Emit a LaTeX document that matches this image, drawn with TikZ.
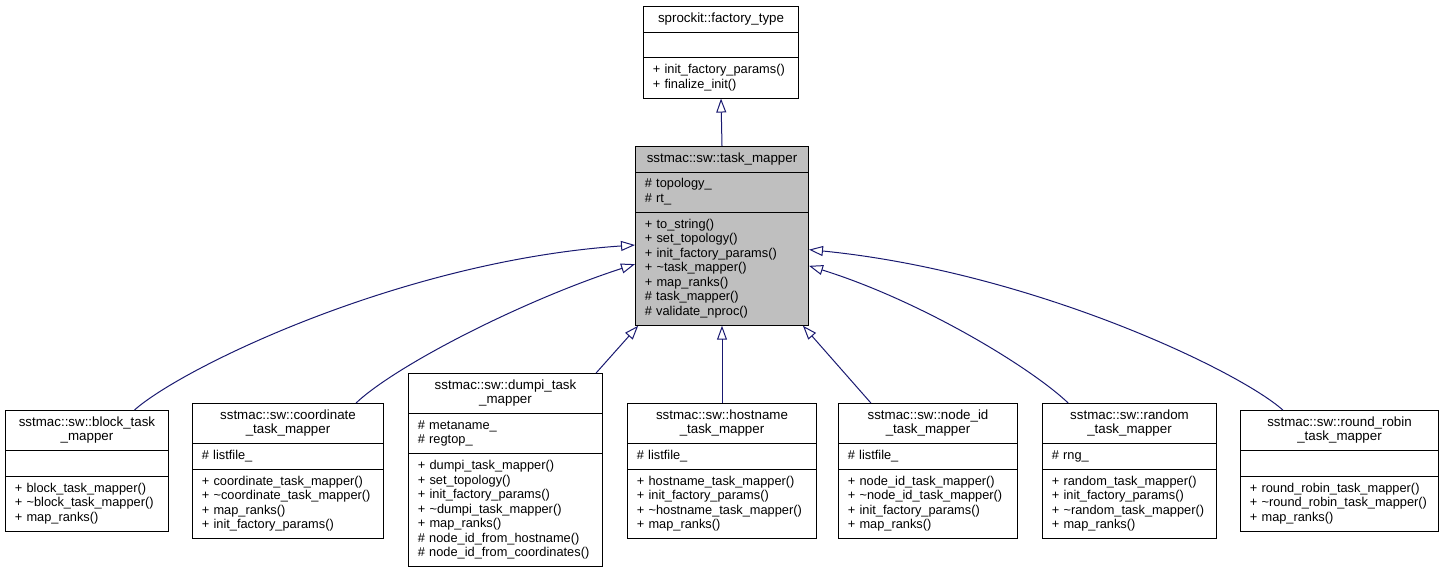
\documentclass[tikz,border=0pt]{standalone}
\usepackage{fontspec}
\setmainfont{Liberation Sans}
\usetikzlibrary{arrows.meta,shapes.multipart}
\definecolor{edgeblue}{HTML}{191970}
\definecolor{basegrey}{HTML}{BFBFBF}
\hyphenpenalty=10000
\exhyphenpenalty=10000
\begin{document}
\begin{tikzpicture}[x=0.75pt, y=-0.75pt, >={Triangle[open, length=10.5pt, width=7.5pt]}]

  \tikzstyle{cls}=[rectangle split, rectangle split parts=3, draw=black, fill=white, line width=0.75pt, anchor=north west, align=left, inner xsep=7pt, inner ysep=3.8pt, font=\fontsize{10}{10.9}\selectfont,
    every two node part/.style={font=\fontsize{9.6}{10.9}\selectfont},
    every three node part/.style={font=\fontsize{9.6}{10.9}\selectfont}]
  \tikzstyle{base}=[cls, fill=basegrey]
  \tikzstyle{inherit}=[->, draw=edgeblue, line width=0.75pt]

  \useasboundingbox (0,0) rectangle (1445,573);

  \node[cls, text width=102.25pt]  (factory) at (643,6)    {\centering\strut sprockit::factory\_type\strut\par
    \nodepart{two}\strut
    \nodepart{three}\strut+~init\_factory\_params()\\+~finalize\_init()\strut};
  \node[base, text width=115.75pt] (tm)      at (635,146)  {\centering\strut sstmac::sw::task\_mapper\strut\par
    \nodepart{two}\strut\#~topology\_\\\#~rt\_\strut
    \nodepart{three}\strut+~to\_string()\\+~set\_topology()\\+~init\_factory\_params()\\+~\textasciitilde task\_mapper()\\+~map\_ranks()\\\#~task\_mapper()\\\#~validate\_nproc()\strut};

  \node[cls, text width=108.25pt]  (block)   at (5,410)    {\centering\strut sstmac::sw::block\_task\par\_mapper\strut\par
    \nodepart{two}\strut
    \nodepart{three}\strut+~block\_task\_mapper()\\+~\textasciitilde block\_task\_mapper()\\+~map\_ranks()\strut};
  \node[cls, text width=129.25pt]  (coord)   at (192,403)  {\centering\strut sstmac::sw::coordinate\par\_task\_mapper\strut\par
    \nodepart{two}\strut\#~listfile\_\strut
    \nodepart{three}\strut+~coordinate\_task\_mapper()\\+~\textasciitilde coordinate\_task\_mapper()\\+~map\_ranks()\\+~init\_factory\_params()\strut};
  \node[cls, text width=131.5pt]   (dumpi)   at (408,373)  {\centering\strut sstmac::sw::dumpi\_task\par\_mapper\strut\par
    \nodepart{two}\strut\#~metaname\_\\\#~regtop\_\strut
    \nodepart{three}\strut+~dumpi\_task\_mapper()\\+~set\_topology()\\+~init\_factory\_params()\\+~\textasciitilde dumpi\_task\_mapper()\\+~map\_ranks()\\\#~node\_id\_from\_hostname()\\\#~node\_id\_from\_coordinates()\strut};
  \node[cls, text width=127.75pt]  (hostname) at (627,403) {\centering\strut sstmac::sw::hostname\par\_task\_mapper\strut\par
    \nodepart{two}\strut\#~listfile\_\strut
    \nodepart{three}\strut+~hostname\_task\_mapper()\\+~init\_factory\_params()\\+~\textasciitilde hostname\_task\_mapper()\\+~map\_ranks()\strut};
  \node[cls, text width=120.25pt]  (nodeid)  at (838,403)  {\centering\strut sstmac::sw::node\_id\par\_task\_mapper\strut\par
    \nodepart{two}\strut\#~listfile\_\strut
    \nodepart{three}\strut+~node\_id\_task\_mapper()\\+~\textasciitilde node\_id\_task\_mapper()\\+~init\_factory\_params()\\+~map\_ranks()\strut};
  \node[cls, text width=116.5pt]   (random)  at (1042,403) {\centering\strut sstmac::sw::random\par\_task\_mapper\strut\par
    \nodepart{two}\strut\#~rng\_\strut
    \nodepart{three}\strut+~random\_task\_mapper()\\+~init\_factory\_params()\\+~\textasciitilde random\_task\_mapper()\\+~map\_ranks()\strut};
  \node[cls, text width=134.5pt]   (rrobin)  at (1240,410) {\centering\strut sstmac::sw::round\_robin\par\_task\_mapper\strut\par
    \nodepart{two}\strut
    \nodepart{three}\strut+~round\_robin\_task\_mapper()\\+~\textasciitilde round\_robin\_task\_mapper()\\+~map\_ranks()\strut};

  \path
    (tm.north)       edge[inherit] (factory.south)
    (dumpi.47)       edge[inherit] (tm.227)
    (hostname.north) edge[inherit] (tm.south)
    (nodeid.130)     edge[inherit] (tm.312)
  ;
  \draw[inherit] (block.52)   .. controls +(47,-42) and +(-234,16) .. (tm.186);
  \draw[inherit] (coord.45)   .. controls +(39,-37) and +(-114,37) .. (tm.198);
  \draw[inherit] (random.132) .. controls +(-38,-36) and +(112,35) .. (tm.341);
  \draw[inherit] (rrobin.133) .. controls +(-45,-40) and +(222,22) .. (tm.351);

\end{tikzpicture}
\end{document}
